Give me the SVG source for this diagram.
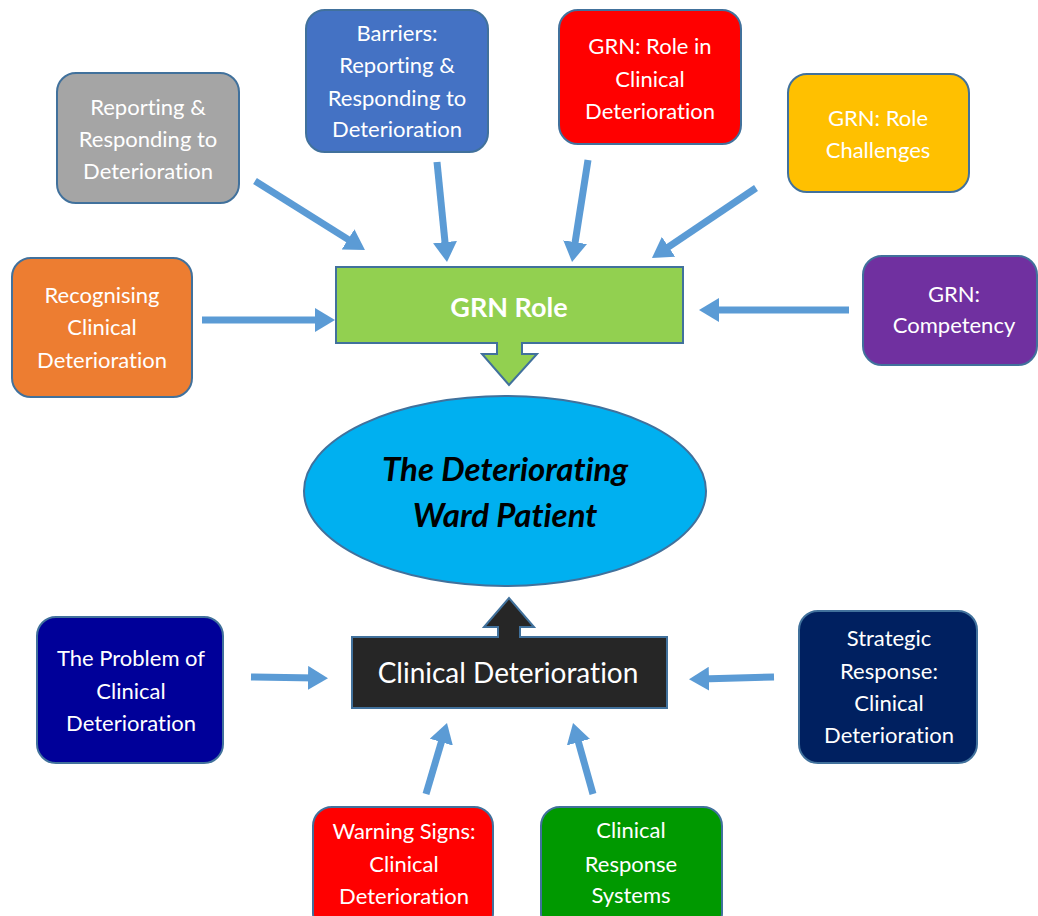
<svg xmlns="http://www.w3.org/2000/svg" width="1038" height="916" viewBox="0 0 1038 916">
<defs>
<style>
text{font-variant-ligatures:none;font-feature-settings:"liga" 0}
.box{stroke:#41719c;stroke-width:2}
.lbl{font-family:Lato,"Open Sans",sans-serif;font-size:22px;fill:#fff;text-anchor:middle}
.conn{stroke:#5b9bd5;stroke-width:7;fill:none;marker-end:url(#ah)}
</style>
<marker id="ah" markerUnits="userSpaceOnUse" markerWidth="22" markerHeight="24" refX="8" refY="12" orient="auto">
<path d="M0,0 L20,12 L0,24 Z" fill="#5b9bd5"/>
</marker>
</defs>
<rect width="1038" height="916" fill="#fff"/>
<g id="connectors">
<line class="conn" x1="255" y1="181" x2="354.8" y2="243.6"/>
<line class="conn" x1="437" y1="162" x2="445.8" y2="250.1"/>
<line class="conn" x1="202" y1="320" x2="323" y2="320"/>
<line class="conn" x1="588" y1="160" x2="573.9" y2="250.1"/>
<line class="conn" x1="756" y1="188" x2="661.9" y2="251.3"/>
<line class="conn" x1="849" y1="310" x2="711" y2="310"/>
<line class="conn" x1="251" y1="677" x2="316" y2="678"/>
<line class="conn" x1="774" y1="677" x2="701" y2="679"/>
<line class="conn" x1="426" y1="794" x2="443.6" y2="734.5"/>
<line class="conn" x1="593" y1="794" x2="576.3" y2="734.5"/>
</g>
<g id="n-reporting">
<rect class="box" x="57" y="73" width="182" height="130" rx="19" fill="#a5a5a5"/>
<text class="lbl"><tspan x="148" y="115">Reporting &amp;</tspan><tspan x="148" y="147">Responding to</tspan><tspan x="148" y="179">Deterioration</tspan></text>
</g>
<g id="n-barriers">
<rect class="box" x="306" y="10" width="182" height="142" rx="19" fill="#4472c4"/>
<text class="lbl"><tspan x="397" y="41">Barriers:</tspan><tspan x="397" y="73">Reporting &amp;</tspan><tspan x="397" y="106">Responding to</tspan><tspan x="397" y="137">Deterioration</tspan></text>
</g>
<g id="n-roleclinical">
<rect class="box" x="559" y="10" width="182" height="134" rx="19" fill="#ff0000"/>
<text class="lbl"><tspan x="650" y="54">GRN: Role in</tspan><tspan x="650" y="87">Clinical</tspan><tspan x="650" y="119">Deterioration</tspan></text>
</g>
<g id="n-challenges">
<rect class="box" x="788" y="74" width="181" height="118" rx="19" fill="#ffc000"/>
<text class="lbl"><tspan x="878" y="126">GRN: Role</tspan><tspan x="878" y="158">Challenges</tspan></text>
</g>
<g id="n-recognising">
<rect class="box" x="12" y="258" width="180" height="139" rx="19" fill="#ed7d31"/>
<text class="lbl"><tspan x="102" y="303">Recognising</tspan><tspan x="102" y="335">Clinical</tspan><tspan x="102" y="368">Deterioration</tspan></text>
</g>
<g id="n-competency">
<rect class="box" x="863" y="256" width="174" height="109" rx="19" fill="#7030a0"/>
<text class="lbl"><tspan x="954" y="302">GRN:</tspan><tspan x="954" y="333">Competency</tspan></text>
</g>
<g id="n-grnrole">
<path class="box" d="M336,267 H683 V343 H522 V354 H537 L509,385 L482,354 H497 V343 H336 Z" fill="#92d050"/>
<text x="509" y="317" text-anchor="middle" font-family="Lato,'Open Sans',sans-serif" font-weight="bold" font-size="27" fill="#fff">GRN Role</text>
</g>
<g id="n-patient">
<ellipse class="box" cx="505" cy="491" rx="201" ry="95" fill="#00b0f0"/>
<text text-anchor="middle" font-family="Lato,'Open Sans',sans-serif" font-weight="bold" font-style="italic" font-size="33" fill="#000"><tspan x="505" y="481">The Deteriorating</tspan><tspan x="505" y="527">Ward Patient</tspan></text>
</g>
<g id="n-clinicaldet">
<path class="box" d="M352,708 V637 H498 V627 H484 L509,598 L534,627 H520 V637 H667 V708 Z" fill="#262626"/>
<text x="508" y="683" text-anchor="middle" font-family="Lato,'Open Sans',sans-serif" font-size="28" fill="#fff">Clinical Deterioration</text>
</g>
<g id="n-problem">
<rect class="box" x="37" y="617" width="186" height="146" rx="19" fill="#000099"/>
<text class="lbl"><tspan x="131" y="666">The Problem of</tspan><tspan x="131" y="699">Clinical</tspan><tspan x="131" y="731">Deterioration</tspan></text>
</g>
<g id="n-strategic">
<rect class="box" x="799" y="611" width="178" height="152" rx="19" fill="#002060"/>
<text class="lbl"><tspan x="889" y="646">Strategic</tspan><tspan x="889" y="679">Response:</tspan><tspan x="889" y="711">Clinical</tspan><tspan x="889" y="743">Deterioration</tspan></text>
</g>
<g id="n-warning">
<rect class="box" x="313" y="807" width="180" height="125" rx="19" fill="#ff0000"/>
<text class="lbl"><tspan x="404" y="839">Warning Signs:</tspan><tspan x="404" y="872">Clinical</tspan><tspan x="404" y="904">Deterioration</tspan></text>
</g>
<g id="n-response">
<rect class="box" x="541" y="807" width="181" height="125" rx="19" fill="#009900"/>
<text class="lbl"><tspan x="631" y="838">Clinical</tspan><tspan x="631" y="872">Response</tspan><tspan x="631" y="903">Systems</tspan></text>
</g>
</svg>
